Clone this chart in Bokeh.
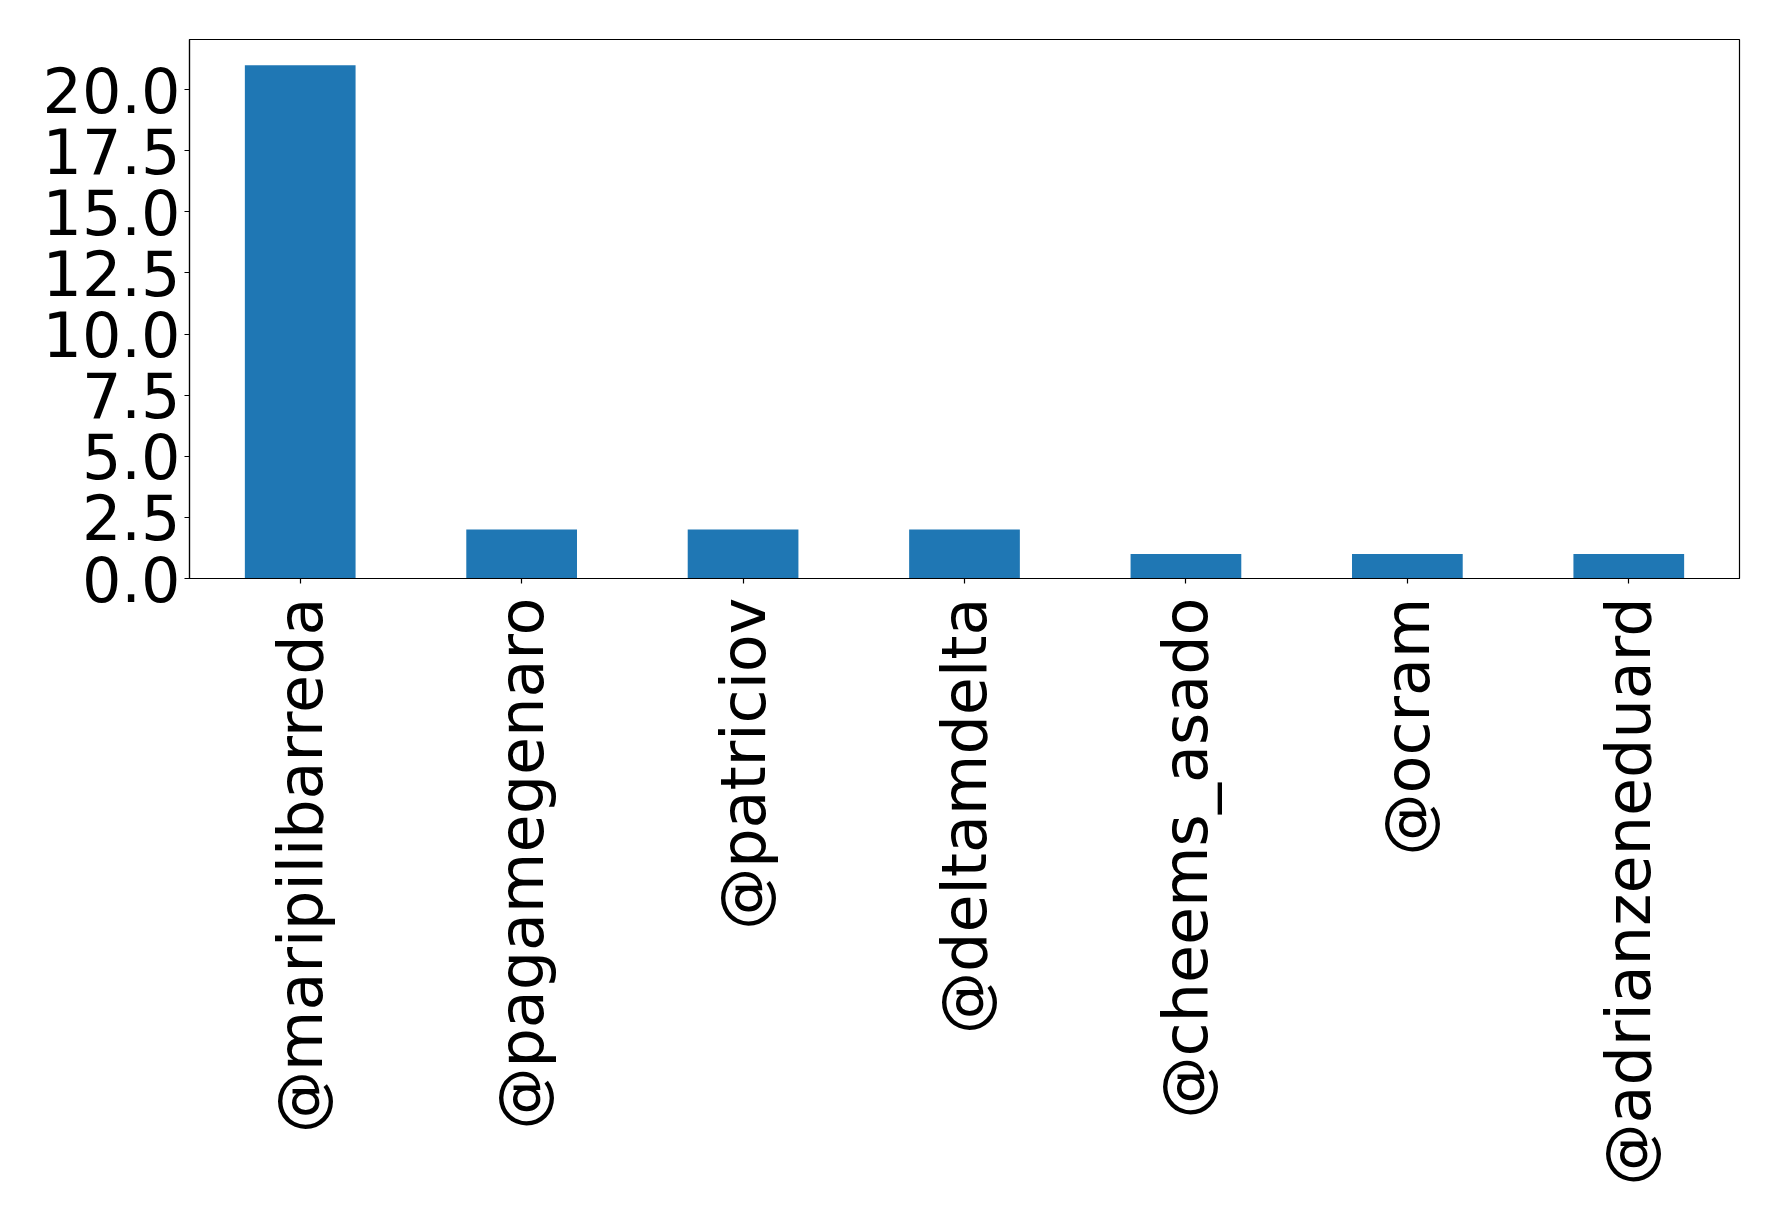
import math
from bokeh.plotting import figure
from bokeh.models import ColumnDataSource, Range1d, FactorRange, FixedTicker, NumeralTickFormatter
from bokeh.embed import file_html
from bokeh.resources import INLINE

users = ["@maripilibarreda", "@pagamegenaro", "@patriciov", "@deltamdelta",
         "@cheems_asado", "@ocram", "@adrianzeneduard"]
counts = [21, 2, 2, 2, 1, 1, 1]
y_ticks = [0, 2.5, 5, 7.5, 10, 12.5, 15, 17.5, 20]

FONT = "DejaVu Sans"
FSIZE = "62px"

source = ColumnDataSource(data=dict(user=users, count=counts))

# === Figure === #
p = figure(x_range=FactorRange(*users), y_range=Range1d(0, 22.05),
           width=1770, height=1204, toolbar_location=None, output_backend="svg",
           min_border_left=189, min_border_right=31, min_border_top=39, min_border_bottom=626)

p.vbar(x="user", top="count", width=0.5, fill_color="#1f77b4", line_color=None, source=source)

# === Grid/Outline === #
p.grid.visible = False
p.outline_line_color = "black"
p.outline_line_width = 1.2
p.outline_line_alpha = 1.0
p.background_fill_color = "white"
p.border_fill_color = "white"

# === Axes === #
for ax in (p.xaxis, p.yaxis):
    ax.axis_line_color = "black"
    ax.axis_line_width = 1.2
    ax.major_tick_line_color = "black"
    ax.major_tick_line_width = 1.2
    ax.major_tick_out = 5
    ax.major_tick_in = 0
    ax.minor_tick_line_color = None
    ax.major_label_text_font = FONT
    ax.major_label_text_font_size = FSIZE
    ax.major_label_text_color = "black"

p.xaxis.major_label_standoff = 14
p.yaxis.major_label_standoff = 4
p.yaxis.ticker = FixedTicker(ticks=y_ticks)
p.yaxis.formatter = NumeralTickFormatter(format="0.0")
p.xaxis.major_label_orientation = math.pi / 2

open("out.html", "w").write(file_html(p, INLINE))
